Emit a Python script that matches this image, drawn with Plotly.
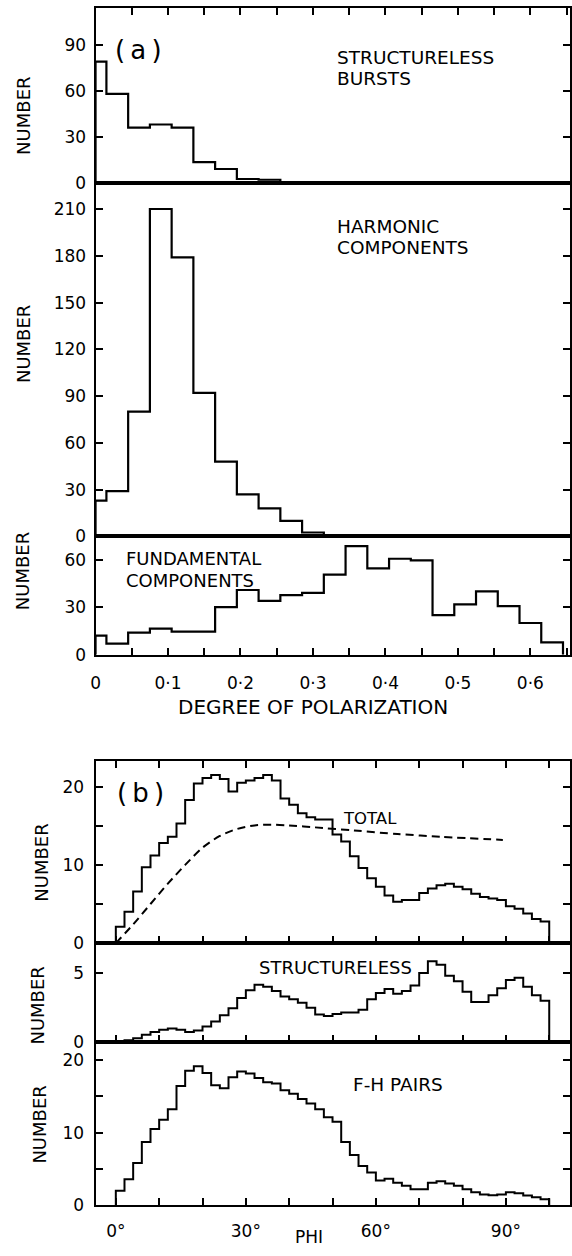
import plotly.graph_objects as go

W, H = 572, 1256

# ---------------- Panel (a): degree of polarization ----------------
pol_edges = [0, 0.015, 0.045, 0.075, 0.105, 0.135, 0.165, 0.195, 0.225, 0.255,
             0.285, 0.315, 0.345, 0.375, 0.405, 0.435, 0.465, 0.495, 0.525,
             0.555, 0.585, 0.615, 0.645]
bursts_counts = [79, 58, 36, 38, 36, 13.5, 9, 2.5, 2]
harmonic_counts = [23, 29, 80, 210, 179, 92, 48, 27, 18, 10, 2.5]
fundamental_counts = [12, 7, 14, 16.5, 14.6, 14.6, 30, 40.8, 34, 37.6, 39,
                      50.5, 68.5, 54.5, 60.5, 59.5, 25, 31.8, 40, 30.7, 20, 7.8]
pol_tickvals = [0, 0.05, 0.1, 0.15, 0.2, 0.25, 0.3, 0.35, 0.4, 0.45, 0.5, 0.55, 0.6, 0.65]
pol_ticktext = ["0", "", "0·1", "", "0·2", "", "0·3", "", "0·4", "", "0·5", "", "0·6", ""]

# ---------------- Panel (b): PHI ----------------
phi_edges = list(range(0, 102, 2))
total_counts = [2.1, 4.0, 6.6, 9.7, 11.2, 12.8, 13.6, 15.3, 18.3, 20.4,
                21.1, 21.5, 21.0, 19.4, 20.5, 20.8, 21.1, 21.5, 20.8, 18.5,
                17.7, 16.6, 16.1, 15.8, 15.8, 13.9, 13.0, 11.1, 9.6, 8.3,
                7.2, 6.1, 5.3, 5.5, 5.5, 6.4, 7.0, 7.4, 7.6, 7.2,
                6.9, 6.3, 5.9, 5.7, 5.5, 4.7, 4.4, 3.8, 3.1, 2.75]
structureless_counts = [0.05, 0.15, 0.3, 0.55, 0.75, 0.9, 1.0, 0.9, 0.75, 0.85,
                        1.15, 1.5, 1.95, 2.45, 3.2, 3.75, 4.15, 4.0, 3.7, 3.3,
                        3.1, 2.85, 2.5, 2.0, 1.9, 2.05, 2.15, 2.15, 2.35, 3.1,
                        3.55, 3.85, 3.5, 3.7, 4.1, 5.0, 5.85, 5.6, 4.8, 4.4,
                        3.65, 2.9, 2.9, 3.4, 3.9, 4.5, 4.65, 4.0, 3.4, 3.0]
fh_counts = [2.0, 3.6, 5.8, 8.7, 10.5, 11.75, 13.2, 16.4, 18.5, 19.1,
             18.2, 16.5, 16.1, 17.6, 18.4, 18.1, 17.5, 16.9, 16.75, 15.8,
             15.35, 14.6, 14.0, 13.2, 12.1, 11.5, 8.7, 6.9, 5.4, 4.5,
             3.4, 3.65, 3.1, 2.7, 2.2, 2.2, 3.1, 3.3, 3.0, 2.7,
             2.2, 1.8, 1.5, 1.4, 1.5, 1.8, 1.65, 1.35, 1.1, 0.85]
total_curve_phi = [0, 4, 8, 12, 16, 20, 24, 28, 32, 36, 40, 46, 55, 65, 75, 89.3]
total_curve_val = [0, 2.4, 5.0, 7.6, 10.0, 12.2, 13.7, 14.6, 15.05, 15.15, 15.05,
                   14.8, 14.4, 13.95, 13.6, 13.2]
phi_tickvals = [0, 10, 20, 30, 40, 50, 60, 70, 80, 90, 100]
phi_ticktext = ["0°", "", "", "30°", "", "", "60°", "", "", "90°", ""]

FONT = "DejaVu Sans"


def px_x(p):
    return p / W


def px_y(p):
    return 1 - p / H


def step(edges, counts):
    n = len(counts)
    xs = [edges[0]] + list(edges[:n]) + [edges[n]]
    ys = [0] + list(counts) + [0]
    return xs, ys


fig = go.Figure()


def add_hist(edges, counts, k, width=2.2):
    xs, ys = step(edges, counts)
    sfx = "" if k == 1 else str(k)
    fig.add_trace(go.Scatter(x=xs, y=ys, mode="lines",
                             line=dict(color="black", width=width, shape="hv"),
                             xaxis="x" + sfx, yaxis="y" + sfx,
                             showlegend=False, hoverinfo="skip"))


add_hist(pol_edges, bursts_counts, 1)
add_hist(pol_edges, harmonic_counts, 2)
add_hist(pol_edges, fundamental_counts, 3)
add_hist(phi_edges, total_counts, 4, 2.0)
add_hist(phi_edges, structureless_counts, 5, 2.0)
add_hist(phi_edges, fh_counts, 6, 2.0)

fig.add_trace(go.Scatter(x=total_curve_phi, y=total_curve_val, mode="lines",
                         line=dict(color="black", width=2, dash="8px,5px", shape="spline",
                                   smoothing=0.8),
                         xaxis="x4", yaxis="y4", showlegend=False, hoverinfo="skip"))

XDOM = [px_x(91.5), px_x(570.5)]
base_ax = dict(showline=True, linecolor="black", linewidth=2, showgrid=False,
               zeroline=False, tickcolor="black", tickwidth=1.8, ticklen=7,
               tickfont=dict(family=FONT, size=17, color="black"))

pol_range = [0, 0.654]
phi_range = [-4.68, 104.68]

layout = dict(
    width=W, height=H, margin=dict(l=0, r=0, t=0, b=0),
    paper_bgcolor="white", plot_bgcolor="white",
    font=dict(family=FONT, color="black"),
)

YSO = 4  # y tick label standoff

# panel (a) axes
layout["xaxis"] = dict(base_ax, domain=XDOM, range=pol_range, anchor="y", side="top",
                       ticks="inside", tickvals=pol_tickvals, showticklabels=False, mirror=True)
layout["yaxis"] = dict(base_ax, domain=[px_y(184.3), px_y(8)], range=[0, 113.9], anchor="x",
                       ticks="inside", tickvals=[0, 30, 60, 90], mirror="ticks",
                       ticklabelstandoff=YSO)
layout["xaxis2"] = dict(base_ax, domain=XDOM, range=pol_range, anchor="y2",
                        ticks="", showticklabels=False, mirror=True)
layout["yaxis2"] = dict(base_ax, domain=[px_y(540.7), px_y(184.3)], range=[0, 226.8], anchor="x2",
                        ticks="inside", tickvals=[0, 30, 60, 90, 120, 150, 180, 210],
                        mirror="ticks", ticklabelstandoff=YSO)
layout["xaxis3"] = dict(base_ax, domain=XDOM, range=pol_range, anchor="y3",
                        ticks="inside", tickvals=pol_tickvals, ticktext=pol_ticktext,
                        mirror=True, ticklabelstandoff=12)
layout["yaxis3"] = dict(base_ax, domain=[px_y(660), px_y(540.7)], range=[0, 74.6], anchor="x3",
                        ticks="inside", tickvals=[0, 30, 60], mirror="ticks",
                        ticklabelstandoff=YSO)

# panel (b) axes
layout["xaxis4"] = dict(base_ax, domain=XDOM, range=phi_range, anchor="y4",
                        ticks="inside", tickvals=phi_tickvals, showticklabels=False,
                        mirror="ticks")
layout["yaxis4"] = dict(base_ax, domain=[px_y(950.7), px_y(767)], range=[0, 23.3], anchor="x4",
                        ticks="inside", tickvals=[0, 5, 10, 15, 20],
                        ticktext=["0", "", "10", "", "20"], mirror="ticks",
                        ticklabelstandoff=YSO + 2)
layout["xaxis5"] = dict(base_ax, domain=XDOM, range=phi_range, anchor="y5",
                        ticks="inside", tickvals=phi_tickvals, showticklabels=False,
                        mirror=True)
layout["yaxis5"] = dict(base_ax, domain=[px_y(1050.7), px_y(950.7)], range=[0, 7.15], anchor="x5",
                        ticks="inside", tickvals=[0, 5], mirror="ticks",
                        ticklabelstandoff=YSO + 2)
layout["xaxis6"] = dict(base_ax, domain=XDOM, range=phi_range, anchor="y6",
                        ticks="inside", tickvals=phi_tickvals, ticktext=phi_ticktext,
                        mirror=True, ticklabelstandoff=9)
layout["yaxis6"] = dict(base_ax, domain=[px_y(1215), px_y(1050.7)], range=[0, 22.4], anchor="x6",
                        ticks="inside", tickvals=[0, 5, 10, 15, 20],
                        ticktext=["0", "", "10", "", "20"], mirror="ticks",
                        ticklabelstandoff=YSO + 2)

fig.update_layout(**layout)


def note(text, x, y, size=18.5, xanchor="center", angle=0):
    fig.add_annotation(text=text, x=px_x(x), y=px_y(y), xref="paper", yref="paper",
                       xanchor=xanchor, yanchor="middle", showarrow=False,
                       textangle=angle, font=dict(family=FONT, size=size, color="black"))


# panel (a) texts
note("(\u2009a\u2009)", 135, 50, size=26)
note("STRUCTURELESS", 333, 58, xanchor="left")
note("BURSTS", 333, 79, xanchor="left")
note("HARMONIC", 333, 228, xanchor="left")
note("COMPONENTS", 333, 249, xanchor="left")
note("FUNDAMENTAL", 120, 563, xanchor="left", size=18)
note("COMPONENTS", 120, 585, xanchor="left", size=18)
note("DEGREE OF POLARIZATION", 311, 713, size=20)
note("NUMBER", 18, 117, size=18, angle=-90)
note("NUMBER", 18, 347, size=18, angle=-90)
note("NUMBER", 18, 576, size=18, angle=-90)

# panel (b) texts
note("(\u2009b\u2009)", 137, 799, size=26)
note("TOTAL", 369, 825, size=16.5)
note("STRUCTURELESS", 334, 975, size=18)
note("F-H PAIRS", 397, 1093, size=18.5)
note("PHI", 307, 1247, size=17)
note("NUMBER", 36, 870, size=18, angle=-90)
note("NUMBER", 33, 1014, size=18, angle=-90)
note("NUMBER", 35, 1134, size=18, angle=-90)

fig.write_html("out.html",
               config={"displayModeBar": False, "responsive": False},
               post_script="document.body.style.margin='0';"
                           "document.body.style.overflow='hidden';")
